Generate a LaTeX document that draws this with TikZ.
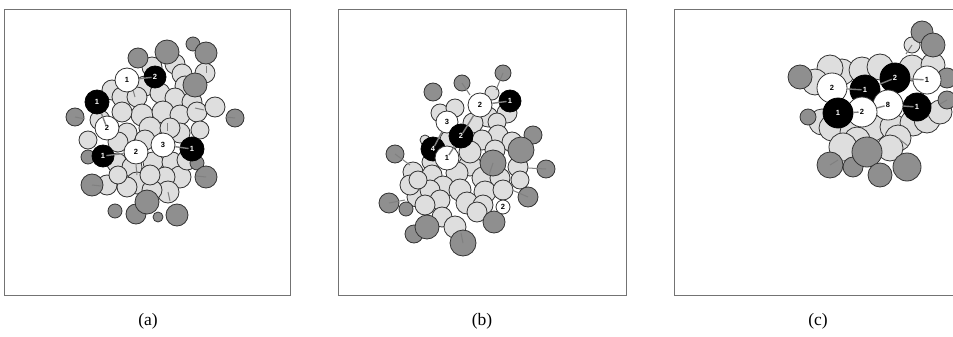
\documentclass[tikz,border=0pt]{standalone}
\usepackage{fontspec}
\setmainfont{Liberation Serif}
\setsansfont{Liberation Sans}
\definecolor{lightc}{gray}{0.87}
\definecolor{darkc}{gray}{0.56}
\definecolor{edgec}{gray}{0.2}
\definecolor{framec}{gray}{0.45}
\definecolor{tickc}{gray}{0.5}
\tikzset{
  lg/.style={fill=lightc,draw=edgec,line width=0.8pt},
  dg/.style={fill=darkc,draw=edgec,line width=0.8pt},
  ball/.style={circle,inner sep=0pt,line width=0.8pt,font=\fontsize{7.5}{8}\selectfont\sffamily\bfseries},
  wn/.style={ball,fill=white,draw=edgec,text=black},
  bn/.style={ball,fill=black,draw=black,text=white},
  conn/.style={draw=tickc,line width=1.4pt,shorten >=3.5pt},
  tickline/.style={draw=tickc,line width=1pt},
  frame/.style={draw=framec,line width=1pt},
  captext/.style={font=\fontsize{17.5}{20}\selectfont}
}
\begin{document}
\begin{tikzpicture}[x=1pt,y=-1pt]
\useasboundingbox (0,0) rectangle (953,337);
\clip (0,0) rectangle (953,337);
\fill[white] (0,0) rectangle (953,337);
% frames
\draw[frame] (4.5,9.5) rectangle (290,295);
\draw[frame] (338,9.5) rectangle (626,295);
\draw[frame] (674,9.5) rectangle (990,295);
% ---------------- panel (a)
\foreach \x/\y/\r in {152/67/10,175/64/10,182/74/10,205/73/10,112/90/10,145/86/10,185/86/10,122/97/10,137/97/10,160/93/10,175/98/10,192/102/10,
  142/115/11,122/112/10,163/112/11,180/115/10,197/112/10,215/107/10,100/120/10,150/128/11,127/133/10,180/133/10,
  170/128/10,200/130/9,145/140/10,88/140/9,118/142/10,117/163/10,132/167/10,153/162/10,172/162/10,180/177/11,165/177/10,137/183/11,127/187/10,
  107/185/10,168/192/11,152/190/10,187/160/10,118/175/9,150/175/10}
  \draw[lg] (\x,\y) circle (\r pt);
\foreach \x/\y/\r in {138/58/10,167/52/12,193/44/7,206/53/11,195/85/12,75/117/9,235/118/9,88/157/7,197/163/7,
  206/177/11,92/185/11,115/211/7,136/214/10,147/202/12,158/217/5,177/215/11}
  \draw[dg] (\x,\y) circle (\r pt);
\draw[tickline] (167,123) -- (167,131);
\draw[tickline] (195,108) -- (204,110);
\draw[tickline] (206,66) -- (206,73);
\draw[tickline] (136,165) -- (137,175);
\draw[tickline] (92,185) -- (101,186);
\draw[tickline] (206,177) -- (196,176);
\draw[tickline] (235,118) -- (226,117);
\draw[tickline] (75,117) -- (85,119);
\draw[tickline] (168,192) -- (170,201);
\draw[tickline] (133,90) -- (135,97);
\node[wn,minimum size=24pt] (aw1) at (127,80) {};
\node[bn,minimum size=22pt] (ab2) at (155,77) {};
\node[bn,minimum size=24pt] (ab1) at (97,102) {};
\node[wn,minimum size=24pt] (aw2) at (107,128) {};
\node[bn,minimum size=22pt] (ab1b) at (103,156) {};
\node[wn,minimum size=24pt] (aw2b) at (136,152) {};
\node[wn,minimum size=24pt] (aw3) at (163,145) {};
\node[bn,minimum size=24pt] (ab1c) at (192,149) {};
\draw[conn] (aw1) -- (ab2.center);
\draw[conn] (ab1) -- (aw2.center);
\draw[conn] (aw2b) -- (ab1b.center);
\draw[conn] (aw3) -- (ab1c.center);
\node[wn,draw=none,fill=none] at (aw1) {1};
\node[bn,draw=none,fill=none] at (ab2) {2};
\node[bn,draw=none,fill=none] at (ab1) {1};
\node[wn,draw=none,fill=none] at (aw2) {2};
\node[bn,draw=none,fill=none] at (ab1b) {1};
\node[wn,draw=none,fill=none] at (aw2b) {2};
\node[wn,draw=none,fill=none] at (aw3) {3};
\node[bn,draw=none,fill=none] at (ab1c) {1};
% ---------------- panel (b)
\foreach \x/\y/\r in {492/93/7,507/113/10,488/117/10,473/123/10,440/113/9,455/108/9,497/122/9,498/135/10,482/140/10,425/140/5,512/142/10,
  450/140/10,495/150/10,470/165/11,430/162/8,
  470/152/11,518/167/10,413/172/10,432/175/10,457/173/11,483/178/11,500/178/10,520/180/9,443/187/11,460/190/11,485/192/11,417/197/10,
  503/190/10,430/190/10,410/185/10,440/200/10,467/203/11,483/205/10,442/217/10,455/227/11,477/212/10,425/205/10,418/180/9}
  \draw[lg] (\x,\y) circle (\r pt);
\foreach \x/\y/\r in {503/73/8,462/83/8,433/92/9,533/135/9,521/150/13,493/163/13,395/154/9,546/169/9,389/203/10,
  406/209/7,528/197/10,494/222/11,414/234/9,427/227/12,463/243/13}
  \draw[dg] (\x,\y) circle (\r pt);
\draw[tickline] (503,73) -- (496,90);
\draw[tickline] (462,83) -- (470,95);
\draw[tickline] (395,154) -- (410,165);
\draw[tickline] (546,169) -- (528,168);
\draw[tickline] (389,203) -- (405,200);
\draw[tickline] (528,197) -- (512,190);
\draw[tickline] (493,163) -- (489,175);
\draw[tickline] (463,243) -- (461,233);
\node[wn,minimum size=24pt] (bw2) at (480,105) {};
\node[bn,minimum size=22pt] (bb1) at (510,101) {};
\node[wn,minimum size=22pt] (bw3) at (447,122) {};
\node[bn,minimum size=24pt] (bb4) at (433,149) {};
\node[bn,minimum size=24pt] (bb2) at (461,136) {};
\node[wn,minimum size=24pt] (bw1) at (447,158) {};
\node[wn,minimum size=14pt] (bw2b) at (503,207) {};
\draw[conn] (bw2) -- (bb1.center);
\draw[conn] (bw2) -- (bb2.center);
\draw[conn] (bw3) -- (bb4.center);
\draw[conn] (bb2) -- (bw1.center);
\node[wn,draw=none,fill=none] at (bw2) {2};
\node[bn,draw=none,fill=none] at (bb1) {1};
\node[wn,draw=none,fill=none] at (bw3) {3};
\node[bn,draw=none,fill=none] at (bb4) {4};
\node[bn,draw=none,fill=none] at (bb2) {2};
\node[wn,draw=none,fill=none] at (bw1) {1};
\node[wn,draw=none,fill=none] at (bw2b) {2};
% ---------------- panel (c)
\foreach \x/\y/\r in {912/45/8,842/72/13,862/70/13,880/67/13,830/68/13,815/82/13,912/68/13,933/65/12,822/122/13,
  832/128/13,853/132/13,873/128/13,893/127/13,913/123/13,927/120/13,857/140/13,843/147/14,898/138/13,890/148/13,940/112/12}
  \draw[lg] (\x,\y) circle (\r pt);
\foreach \x/\y/\r in {922/32/11,933/45/12,800/77/12,947/78/10,947/100/9,808/117/8,853/167/10,830/165/13,
  867/152/15,907/167/14,880/175/12}
  \draw[dg] (\x,\y) circle (\r pt);
\draw[tickline] (912,45) -- (906,54);
\draw[tickline] (830,165) -- (838,160);
\draw[tickline] (898,138) -- (908,146);
\draw[tickline] (947,100) -- (940,104);
\node[bn,minimum size=30pt] (cb2) at (895,78) {};
\node[bn,minimum size=30pt] (cb1) at (865,90) {};
\node[wn,minimum size=28pt] (cw1) at (927,80) {};
\node[wn,minimum size=30pt] (cw2) at (832,88) {};
\node[bn,minimum size=28pt] (cb1c) at (917,107) {};
\node[wn,minimum size=30pt] (cw8) at (888,105) {};
\node[wn,minimum size=30pt] (cw2b) at (862,112) {};
\node[bn,minimum size=30pt] (cb1b) at (838,113) {};
\draw[conn] (cw2) -- (cb1.center);
\draw[conn] (cb1) -- (cb2.center);
\draw[conn] (cb2) -- (cw1.center);
\draw[conn] (cw2b) -- (cw8.center);
\draw[conn] (cw8) -- (cb1c.center);
\draw[conn] (cb1b) -- (cw2b.center);
\node[bn,draw=none,fill=none] at (cb2) {2};
\node[bn,draw=none,fill=none] at (cb1) {1};
\node[wn,draw=none,fill=none] at (cw1) {1};
\node[wn,draw=none,fill=none] at (cw2) {2};
\node[bn,draw=none,fill=none] at (cb1c) {1};
\node[wn,draw=none,fill=none] at (cw8) {8};
\node[wn,draw=none,fill=none] at (cw2b) {2};
\node[bn,draw=none,fill=none] at (cb1b) {1};
% captions
\node[captext] (capa) at (148,321) {(a)};
\node[captext] (capb) at (482,321) {(b)};
\node[captext] (capc) at (818,321) {(c)};
\end{tikzpicture}
\end{document}
